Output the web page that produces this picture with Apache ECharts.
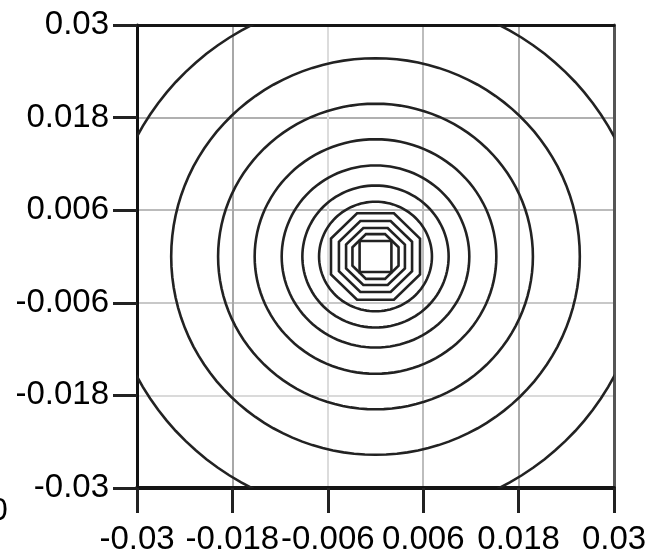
<!DOCTYPE html>
<html>
<head>
<meta charset="utf-8">
<script src="https://cdn.jsdelivr.net/npm/echarts@6/dist/echarts.min.js"></script>
<style>
html,body{margin:0;padding:0;background:#fff;}
#chart{width:662px;height:558px;}
</style>
</head>
<body>
<div id="chart"></div>
<script>
// Tick values and labels (both axes)
const tickValues = [-0.03, -0.018, -0.006, 0.006, 0.018, 0.03];
const tickLabels = ['-0.03', '-0.018', '-0.006', '0.006', '0.018', '0.03'];
// Contour levels: radius (data units), centred at (0,0)
const ringRadii = [0.0338, 0.0257, 0.0198, 0.0152, 0.0118, 0.0092, 0.0071, 0.0056, 0.0046, 0.0037, 0.0029, 0.0020];
// polygon sides of each contour (0 = smooth)
const ringSides = [0, 0, 0, 0, 0, 0, 0, 8, 8, 8, 8, 4];
const centerX = [0];
const centerY = [0];

const FONT = 'Liberation Sans, Arial, sans-serif';

function fmt(v) {
  let best = 0, d = Infinity;
  tickValues.forEach((t, i) => { const dd = Math.abs(t - v); if (dd < d) { d = dd; best = i; } });
  return tickLabels[best];
}

const chart = echarts.init(document.getElementById('chart'), null, {renderer: 'canvas'});

const ringData = ringRadii.map((r, i) => [r, ringSides[i], centerX[0], centerY[0]]);

function renderRing(params, api) {
  const r = api.value(0), sides = api.value(1), cx = api.value(2), cy = api.value(3);
  const pts = [];
  if (sides === 0) {
    const n = 120;
    for (let k = 0; k < n; k++) {
      const a = 2 * Math.PI * k / n;
      pts.push(api.coord([cx + r * Math.cos(a), cy + r * Math.sin(a)]));
    }
  } else {
    const off = Math.PI / sides;
    const R = r / Math.cos(Math.PI / sides);
    for (let k = 0; k < sides; k++) {
      const a = off + 2 * Math.PI * k / sides;
      pts.push(api.coord([cx + R * Math.cos(a), cy + R * Math.sin(a)]));
    }
  }
  return {
    type: 'polygon',
    shape: {points: pts},
    style: {fill: null, stroke: '#222', lineWidth: 2.6}
  };
}

const axisCommon = {
  type: 'value', min: -0.03, max: 0.03, interval: 0.012
};

chart.setOption({
  animation: false,
  backgroundColor: '#fff',
  grid: {left: 137, right: 48, top: 25, bottom: 70, containLabel: false},
  xAxis: [
    Object.assign({}, axisCommon, {
      position: 'bottom',
      axisLine: {onZero: false, lineStyle: {color: '#151515', width: 4}},
      axisTick: {show: true, inside: false, length: 25, lineStyle: {color: '#222', width: 3}},
      axisLabel: {fontSize: 33, fontFamily: FONT, color: '#000', margin: 35, formatter: fmt, showMinLabel: true, showMaxLabel: true, hideOverlap: false},
      splitLine: {show: true, lineStyle: {color: ['#aaa', '#a8a8a8', '#dcdcdc', '#bdbdbd', '#aaa', '#aaa'], width: 2}}
    }),
    Object.assign({}, axisCommon, {
      position: 'top',
      axisLine: {onZero: false, lineStyle: {color: '#151515', width: 3}},
      axisTick: {show: false}, axisLabel: {show: false}, splitLine: {show: false}
    })
  ],
  yAxis: [
    Object.assign({}, axisCommon, {
      position: 'left',
      axisLine: {onZero: false, lineStyle: {color: '#111', width: 3}},
      axisTick: {show: true, inside: false, length: 24, lineStyle: {color: '#222', width: 3}},
      axisLabel: {fontSize: 33, fontFamily: FONT, color: '#000', margin: 28, formatter: fmt, showMinLabel: true, showMaxLabel: true, hideOverlap: false},
      splitLine: {show: true, lineStyle: {color: ['#bbb', '#dadada', '#c8c8c8', '#bbb', '#b0b0b0', '#bbb'], width: 2}}
    }),
    Object.assign({}, axisCommon, {
      position: 'right',
      axisLine: {onZero: false, lineStyle: {color: '#555', width: 3}},
      axisTick: {show: false}, axisLabel: {show: false}, splitLine: {show: false}
    })
  ],
  series: [{
    type: 'custom',
    coordinateSystem: 'cartesian2d',
    xAxisIndex: 0, yAxisIndex: 0,
    clip: true,
    renderItem: renderRing,
    data: ringData,
    encode: {x: 2, y: 3},
    z: 3
  }],
  graphic: [{
    type: 'text', x: -10, y: 495, z: 10,
    style: {text: '0', font: '32px ' + FONT, fill: '#000'}
  }]
});
</script>
</body>
</html>
